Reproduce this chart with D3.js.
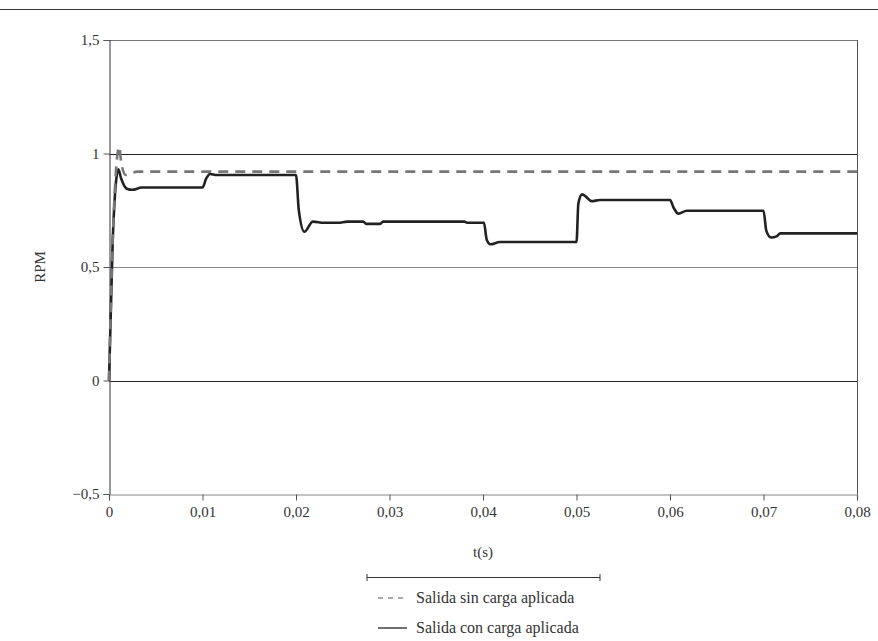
<!DOCTYPE html>
<html>
<head>
<meta charset="utf-8">
<script src="https://cdn.jsdelivr.net/npm/d3@7"></script>
<style>
  html, body { margin: 0; padding: 0; background: #fff; }
  svg { display: block; }
  svg text { font-family: "Liberation Serif", "Tinos", "Times New Roman", "Times", "DejaVu Serif", "Noto Serif", "FreeSerif", serif !important; fill: #333; }
</style>
</head>
<body>
<svg id="chart" width="878" height="641"></svg>
<script>
// ---- data ----
const xTicks = [0, 0.01, 0.02, 0.03, 0.04, 0.05, 0.06, 0.07, 0.08];
const yTicks = [-0.5, 0, 0.5, 1, 1.5];
const seriesNames = ["Salida sin carga aplicada", "Salida con carga aplicada"];

// Salida sin carga aplicada (dashed)
const tNoLoad = [0, 0.0004, 0.0011, 0.0013, 0.0018, 0.0025, 0.003, 0.08];
const vNoLoad = [0, 0.62, 1.03, 0.96, 0.905, 0.915, 0.92, 0.92];

// Salida con carga aplicada (solid)
const tLoad = [0, 0.0004, 0.0010, 0.0013, 0.0019, 0.0025, 0.0035, 0.0100, 0.0104, 0.0108, 0.0115, 0.0200,
  0.0203, 0.0209, 0.0218, 0.0230, 0.0245, 0.0255, 0.0272, 0.0275, 0.0290, 0.0293, 0.0380, 0.0383, 0.0401,
  0.0404, 0.0408, 0.0418, 0.0500, 0.0502, 0.0506, 0.0510, 0.0516, 0.0525, 0.0600, 0.0604, 0.0609, 0.0618,
  0.0700, 0.0703, 0.0708, 0.0714, 0.0718, 0.0800];
const vLoad = [0, 0.62, 0.93, 0.89, 0.845, 0.84, 0.85, 0.85, 0.89, 0.91, 0.905, 0.905,
  0.75, 0.655, 0.70, 0.695, 0.695, 0.70, 0.70, 0.69, 0.69, 0.70, 0.70, 0.695, 0.695,
  0.62, 0.60, 0.61, 0.61, 0.78, 0.82, 0.81, 0.79, 0.795, 0.795, 0.76, 0.735, 0.748,
  0.748, 0.66, 0.63, 0.635, 0.648, 0.648];

// ---- layout ----
const FONT = '"Liberation Serif", "Tinos", "Times New Roman", "DejaVu Serif", "Noto Serif", serif';
const svg = d3.select("#chart");
const x = d3.scaleLinear().domain([0, 0.08]).range([109, 857]);
const y = d3.scaleLinear().domain([-0.5, 1.5]).range([494, 40]);
const fmt = d => d3.format("")(d).replace(".", ",").replace("-", "\u2013");

// top rule
svg.append("line").attr("x1", 0).attr("x2", 878).attr("y1", 9.5).attr("y2", 9.5)
  .attr("stroke", "#333").attr("stroke-width", 1.2);

// horizontal gridlines
const gridColor = {"1.5": "#777", "1": "#222", "0.5": "#888", "0": "#222"};
yTicks.filter(v => v > -0.5).forEach(v => {
  svg.append("line").attr("x1", x(0)).attr("x2", x(0.08))
    .attr("y1", Math.round(y(v)) + 0.5).attr("y2", Math.round(y(v)) + 0.5)
    .attr("stroke", gridColor[String(v)]).attr("stroke-width", 1.2);
});
// right border
svg.append("line").attr("x1", x(0.08) + 0.5).attr("x2", x(0.08) + 0.5)
  .attr("y1", y(1.5)).attr("y2", y(-0.5)).attr("stroke", "#555").attr("stroke-width", 1);

// axes
const yAxis = svg.append("g").attr("transform", `translate(${x(0) + 0.5},0)`)
  .call(d3.axisLeft(y).tickValues(yTicks).tickFormat(fmt).tickSize(6).tickPadding(4));
const xAxis = svg.append("g").attr("transform", `translate(0,${Math.round(y(-0.5)) + 0.5})`)
  .call(d3.axisBottom(x).tickValues(xTicks).tickFormat(fmt).tickSize(6).tickPadding(6));
[yAxis, xAxis].forEach(g => {
  g.attr("font-family", FONT).attr("font-size", 15);
  g.select(".domain").attr("stroke", "#555").attr("stroke-width", 1.2);
  g.selectAll(".tick line").attr("stroke", "#555");
  g.selectAll("text").attr("fill", "#333");
});
xAxis.select(".domain").attr("stroke", "#888");

// axis titles
svg.append("text").attr("x", 483).attr("y", 557).attr("text-anchor", "middle")
  .attr("font-family", FONT).attr("font-size", 15).text("t(s)");
svg.append("text").attr("transform", "translate(45,267) rotate(-90)").attr("text-anchor", "middle")
  .attr("font-family", FONT).attr("font-size", 15).text("RPM");

// lines
const line = d3.line().x(d => x(d[0])).y(d => y(d[1])).curve(d3.curveMonotoneX);
svg.append("path").datum(tLoad.map((t, i) => [t, vLoad[i]]))
  .attr("d", line).attr("fill", "none").attr("stroke", "#222").attr("stroke-width", 2.6)
  .attr("stroke-linejoin", "round");
svg.append("path").datum(tNoLoad.map((t, i) => [t, vNoLoad[i]]))
  .attr("d", line).attr("fill", "none").attr("stroke", "#777").attr("stroke-width", 2.6)
  .attr("stroke-dasharray", "10,7");

// legend
const lg = svg.append("g").attr("font-family", FONT).attr("font-size", 16);
lg.append("line").attr("x1", 367).attr("x2", 600).attr("y1", 577.5).attr("y2", 577.5).attr("stroke", "#333").attr("stroke-width", 1.2);
[367, 600].forEach(px => lg.append("line").attr("x1", px).attr("x2", px).attr("y1", 574).attr("y2", 581).attr("stroke", "#333"));
lg.append("line").attr("x1", 378).attr("x2", 407).attr("y1", 598).attr("y2", 598)
  .attr("stroke", "#555").attr("stroke-width", 1.2).attr("stroke-dasharray", "5,5");
lg.append("line").attr("x1", 378).attr("x2", 407).attr("y1", 628).attr("y2", 628)
  .attr("stroke", "#333").attr("stroke-width", 1.4);
lg.append("text").attr("x", 416).attr("y", 603).text(seriesNames[0]);
lg.append("text").attr("x", 416).attr("y", 633).text(seriesNames[1]);
</script>
</body>
</html>
